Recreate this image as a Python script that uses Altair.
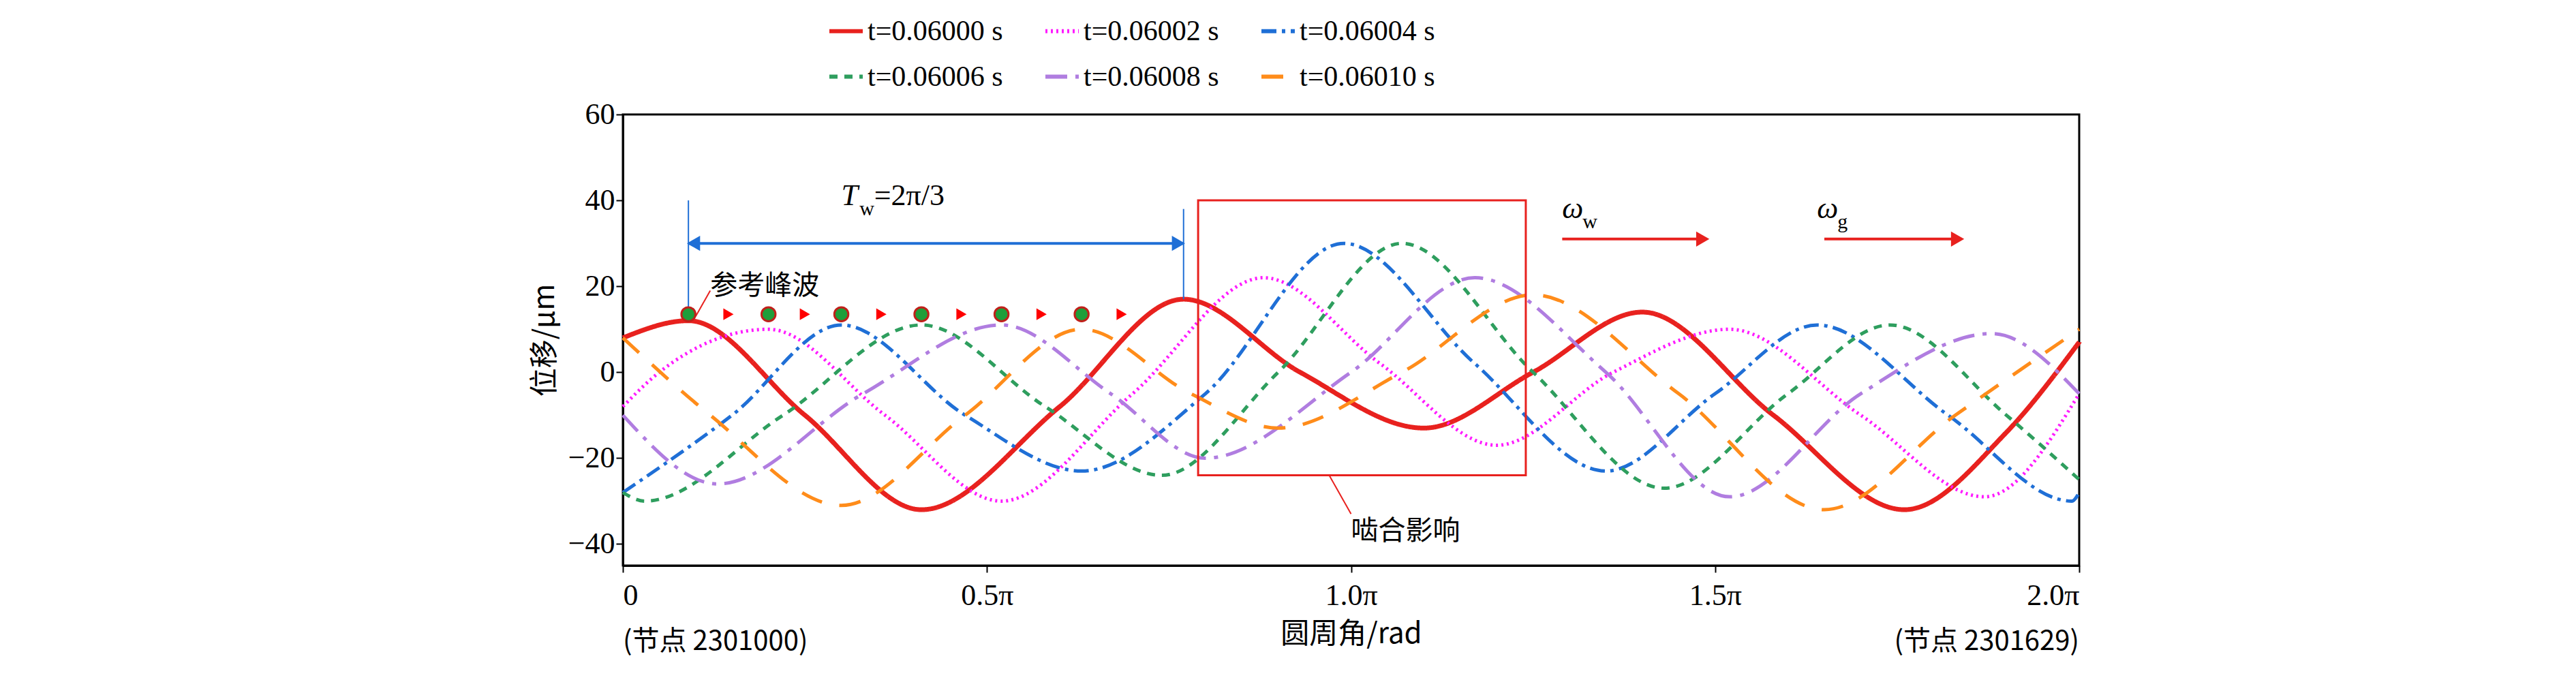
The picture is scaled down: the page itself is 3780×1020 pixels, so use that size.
import altair as alt
import pandas as pd

# x in units of pi, y in um (key points: extrema and crossings)
series = ["t=0.06000 s", "t=0.06002 s", "t=0.06004 s", "t=0.06006 s", "t=0.06008 s", "t=0.06010 s"]
red_x = [0, 0.09, 0.25, 0.41, 0.6, 0.77, 0.93, 1.1, 1.25, 1.4, 1.58, 1.76, 1.9, 2.0]
red_y = [8, 12, -10, -32, -8, 17, 0, -13, 0, 14, -10, -32, -14, 7]
mag_x = [0, 0.05, 0.2, 0.36, 0.52, 0.7, 0.88, 1.04, 1.2, 1.36, 1.52, 1.7, 1.87, 2.0]
mag_y = [-8, 0, 10, -10, -30, -5, 22, 2, -17, 0, 10, -10, -29, -5]
blu_x = [0, 0.15, 0.3, 0.47, 0.63, 0.8, 0.99, 1.17, 1.35, 1.5, 1.64, 1.82, 1.99, 2.0]
blu_y = [-28, -10, 11, -10, -23, -5, 30, 2, -23, -5, 11, -10, -30, -28]
grn_x = [0, 0.03, 0.22, 0.41, 0.58, 0.74, 0.9, 1.07, 1.25, 1.43, 1.6, 1.74, 1.9, 2.0]
grn_y = [-28, -30, -10, 11, -8, -24, 0, 30, 0, -27, -5, 11, -10, -25]
pur_x = [0, 0.13, 0.33, 0.52, 0.67, 0.8, 1.0, 1.17, 1.35, 1.52, 1.7, 1.88, 2.0]
pur_y = [-10, -26, -5, 11, -5, -20, 0, 22, 0, -29, -5, 9, -5]
orn_x = [0, 0.12, 0.3, 0.47, 0.63, 0.78, 0.9, 1.07, 1.25, 1.45, 1.65, 1.83, 2.0]
orn_y = [8, -10, -31, -10, 10, -5, -13, 0, 18, -5, -32, -10, 10]

dot_x = [0.09, 0.2, 0.3, 0.41, 0.52, 0.63]
dot_y = [13.5, 13.5, 13.5, 13.5, 13.5, 13.5]
tri_x = [0.145, 0.25, 0.355, 0.465, 0.575, 0.685]

colors = ["#e8211e", "#ff1cff", "#1f6fd6", "#2e9e5e", "#b07de0", "#ff8c1a"]
dashes = [[1, 0], [3, 5], [22, 8, 5, 8], [12, 10], [32, 12, 6, 12], [32, 26]]
widths = [7, 5, 5, 5, 5, 5]

rows = []
for name, xs, ys, w in zip(series, [red_x, mag_x, blu_x, grn_x, pur_x, orn_x],
                           [red_y, mag_y, blu_y, grn_y, pur_y, orn_y], widths):
    for x, y in zip(xs, ys):
        rows.append({"s": name, "x": x, "y": y, "w": w})
df = pd.DataFrame(rows)

W, H = 2137, 662
SERIF = "Liberation Serif"
CJK = "Noto Sans CJK SC"
xs = alt.Scale(domain=[0, 2], nice=False)
ys = alt.Scale(domain=[-45, 60], nice=False)

lines = alt.Chart(df).mark_line(interpolate="monotone").encode(
    x=alt.X("x:Q", scale=xs, title="圆周角/rad",
            axis=alt.Axis(values=[0, 0.5, 1, 1.5, 2], labelExpr="datum.value == 0 ? '0' : format(datum.value, '.1f') + 'π'",
                          labelFontSize=44, labelFont=SERIF, titleFont=CJK, titleFontSize=42, titleFontWeight="normal",
                          titlePadding=14, grid=False, tickSize=10, tickWidth=2, domainWidth=3, labelPadding=12,
                          labelColor="black", titleColor="black", domainColor="black", tickColor="black")),
    y=alt.Y("y:Q", scale=ys, title="位移/μm",
            axis=alt.Axis(values=[-40, -20, 0, 20, 40, 60], labelFontSize=44, labelFont=SERIF, titleFont=CJK,
                          titleFontSize=42, titleFontWeight="normal", grid=False, tickSize=10, tickWidth=2,
                          domainWidth=3, labelColor="black", titleColor="black", domainColor="black",
                          tickColor="black", titlePadding=12)),
    color=alt.Color("s:N", scale=alt.Scale(domain=series, range=colors), title=None),
    strokeDash=alt.StrokeDash("s:N", scale=alt.Scale(domain=series, range=dashes), title=None),
    strokeWidth=alt.StrokeWidth("w:Q", scale=None),
)

# annotations
seg = pd.DataFrame({
    "x": [0.09, 0.77, 0.09, 0.1, 0.97, 1.29, 1.65],
    "x2": [0.09, 0.77, 0.77, 0.12, 1.0, 1.48, 1.83],
    "y": [13, 17, 30, 13, -24, 31, 31],
    "y2": [40, 38, 30, 19, -33, 31, 31],
    "c": ["#1f6fd6", "#1f6fd6", "#1f6fd6", "#e8211e", "#e8211e", "#e8211e", "#e8211e"],
    "w": [2, 2, 4, 2, 2, 4, 4],
})
rules = alt.Chart(seg).mark_rule().encode(
    x=alt.X("x:Q", scale=xs), x2="x2", y=alt.Y("y:Q", scale=ys), y2="y2",
    color=alt.Color("c:N", scale=None), strokeWidth=alt.StrokeWidth("w:Q", scale=None))

heads = pd.DataFrame({
    "x": [0.1, 0.76, 1.48, 1.83], "y": [30, 30, 31, 31],
    "a": [-90, 90, 90, 90], "c": ["#1f6fd6", "#1f6fd6", "#e8211e", "#e8211e"],
})
arrowheads = alt.Chart(heads).mark_point(shape="triangle", filled=True, size=500, opacity=1).encode(
    x=alt.X("x:Q", scale=xs), y=alt.Y("y:Q", scale=ys),
    angle=alt.Angle("a:Q", scale=None), color=alt.Color("c:N", scale=None))

tris = alt.Chart(pd.DataFrame({"x": tri_x, "y": dot_y})).mark_point(
    shape="triangle-right", filled=True, size=300, color="#ff0000", opacity=1).encode(
    x=alt.X("x:Q", scale=xs), y=alt.Y("y:Q", scale=ys))
dots = alt.Chart(pd.DataFrame({"x": dot_x, "y": dot_y})).mark_point(
    shape="circle", filled=True, size=420, color="#1f9e3a", stroke="#c0201a", strokeWidth=3, opacity=1).encode(
    x=alt.X("x:Q", scale=xs), y=alt.Y("y:Q", scale=ys))

box = alt.Chart(pd.DataFrame({"x": [0.79], "x2": [1.24], "y": [-24], "y2": [40]})).mark_rect(
    fill=None, stroke="#e8211e", strokeWidth=3).encode(
    x=alt.X("x:Q", scale=xs), x2="x2", y=alt.Y("y:Q", scale=ys), y2="y2")

txt = pd.DataFrame({"x": [0.12, 1.0], "y": [20, -37], "t": ["参考峰波", "啮合影响"]})
cjk_text = alt.Chart(txt).mark_text(font=CJK, fontSize=40, align="left", color="black").encode(
    x=alt.X("x:Q", scale=xs), y=alt.Y("y:Q", scale=ys), text="t:N")

sym = pd.DataFrame({"x": [0.3, 1.29, 1.64], "y": [41, 38, 38], "t": ["T", "ω", "ω"]})
sub = pd.DataFrame({"x": [0.325, 1.318, 1.668], "y": [38, 35, 35], "t": ["w", "w", "g"]})
rest = pd.DataFrame({"x": [0.345], "y": [41], "t": ["=2π/3"]})
sym_text = alt.Chart(sym).mark_text(font=SERIF, fontSize=44, fontStyle="italic", align="left").encode(
    x=alt.X("x:Q", scale=xs), y=alt.Y("y:Q", scale=ys), text="t:N")
sub_text = alt.Chart(sub).mark_text(font=SERIF, fontSize=30, align="left").encode(
    x=alt.X("x:Q", scale=xs), y=alt.Y("y:Q", scale=ys), text="t:N")
rest_text = alt.Chart(rest).mark_text(font=SERIF, fontSize=44, align="left").encode(
    x=alt.X("x:Q", scale=xs), y=alt.Y("y:Q", scale=ys), text="t:N")

nodes = pd.DataFrame({"x": [0, 2], "t": ["(节点 2301000)", "(节点 2301629)"]})
node_l = alt.Chart(nodes.iloc[:1]).mark_text(font=CJK, fontSize=40, align="left", baseline="top").encode(
    x=alt.X("x:Q", scale=xs), y=alt.value(H + 92), text="t:N")
node_r = alt.Chart(nodes.iloc[1:]).mark_text(font=CJK, fontSize=40, align="right", baseline="top").encode(
    x=alt.X("x:Q", scale=xs), y=alt.value(H + 92), text="t:N")

chart = alt.layer(lines, rules, arrowheads, box, tris, dots, cjk_text, sym_text, sub_text, rest_text,
                  node_l, node_r).properties(
    width=W, height=H, padding={"left": 770, "top": 10, "right": 10, "bottom": 10}
).configure_view(stroke="black", strokeWidth=3).configure_legend(
    orient="none", legendX=300, legendY=-150, columns=3, direction="horizontal",
    labelFont=SERIF, labelFontSize=42,
    symbolType="stroke", symbolSize=2400, symbolStrokeWidth=6, columnPadding=50, rowPadding=18,
    labelColor="black", labelLimit=400
)

chart.save("out.html", embed_options={"renderer": "svg", "actions": False})
